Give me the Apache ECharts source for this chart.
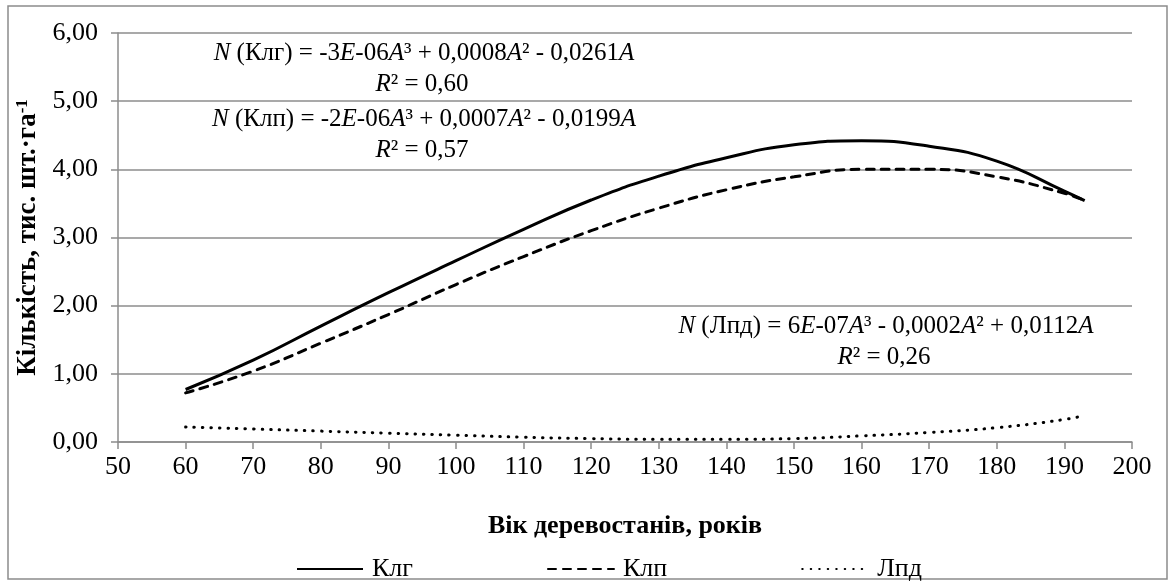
<!DOCTYPE html>
<html>
<head>
<meta charset="utf-8">
<script src="https://cdn.jsdelivr.net/npm/echarts@6/dist/echarts.min.js"></script>
<style>
  html, body { margin: 0; padding: 0; background: #fff; }
  #container { width: 1175px; height: 585px; }
</style>
</head>
<body>
<div id="container"></div>
<script>
var ages = [60, 70, 80, 90, 100, 110, 120, 130, 140, 150, 160, 170, 180, 190, 193];
var klg = [0.77, 1.20, 1.70, 2.19, 2.66, 3.12, 3.55, 3.90, 4.17, 4.36, 4.42, 4.34, 4.12, 3.68, 3.54];
var klp = [0.72, 1.04, 1.45, 1.87, 2.31, 2.72, 3.10, 3.43, 3.70, 3.89, 4.00, 4.00, 3.89, 3.65, 3.54];
var lpd = [0.22, 0.19, 0.16, 0.13, 0.10, 0.07, 0.05, 0.04, 0.04, 0.05, 0.09, 0.14, 0.21, 0.33, 0.39];
var seriesNames = ['Клг', 'Клп', 'Лпд'];

var font = "'Liberation Serif', 'Times New Roman', serif";
var gray = '#8c8c8c';
var fs = 26;

function pairs(vals) {
    return ages.map(function (a, i) { return [a, vals[i]]; });
}

var rich = {
    i: {fontFamily: font, fontSize: 25, fontStyle: 'italic', color: '#000'}
};

function eqText(text, x, y) {
    return {
        type: 'text',
        x: x,
        y: y,
        silent: true,
        style: {
            text: text,
            fill: '#000',
            fontFamily: font,
            fontSize: 25,
            align: 'center',
            verticalAlign: 'middle',
            rich: rich
        }
    };
}

var dom = document.getElementById("container");
var myChart = echarts.init(dom);
var option = {
    animation: false,
    backgroundColor: '#fff',
    grid: {left: 118, right: 43, top: 33, bottom: 143},
    graphic: [
        {
            type: 'rect',
            shape: {x: 8, y: 6, width: 1159, height: 573},
            style: {fill: null, stroke: gray, lineWidth: 1.5},
            silent: true
        },
        eqText('{i|N} (Клг) = -3{i|E}-06{i|A}³ + 0,0008{i|A}² - 0,0261{i|A}', 424, 53),
        eqText('{i|R}² = 0,60', 422, 84),
        eqText('{i|N} (Клп) = -2{i|E}-06{i|A}³ + 0,0007{i|A}² - 0,0199{i|A}', 424, 119),
        eqText('{i|R}² = 0,57', 422, 150),
        eqText('{i|N} (Лпд) = 6{i|E}-07{i|A}³ - 0,0002{i|A}² + 0,0112{i|A}', 886, 326),
        eqText('{i|R}² = 0,26', 884, 357)
    ],
    legend: {
        data: seriesNames,
        left: 291,
        top: 551,
        itemWidth: 66,
        itemHeight: 14,
        itemGap: 134,
        itemStyle: {opacity: 0},
        textStyle: {fontFamily: font, fontSize: fs, color: '#000', padding: [0, 0, 0, 4]}
    },
    xAxis: {
        type: 'value',
        min: 50,
        max: 200,
        interval: 10,
        name: 'Вік деревостанів, років',
        nameLocation: 'middle',
        nameGap: 71,
        nameTextStyle: {fontFamily: font, fontSize: fs, fontWeight: 'bold', color: '#000'},
        axisLine: {show: true, onZero: false, lineStyle: {color: gray, width: 1.5}},
        axisTick: {show: true, length: 7, lineStyle: {color: gray, width: 1.5}},
        axisLabel: {fontFamily: font, fontSize: fs, color: '#000', margin: 12},
        splitLine: {show: false}
    },
    yAxis: {
        type: 'value',
        min: 0,
        max: 6,
        interval: 1,
        name: '{b|Кількість, тис. шт.·га}{s|-1}',
        nameLocation: 'middle',
        nameGap: 75,
        nameTextStyle: {
            rich: {
                b: {fontFamily: font, fontSize: 27, fontWeight: 'bold', color: '#000'},
                s: {fontFamily: font, fontSize: 17, fontWeight: 'bold', color: '#000', verticalAlign: 'top', lineHeight: 17}
            }
        },
        axisLine: {show: true, lineStyle: {color: gray, width: 1.5}},
        axisTick: {show: true, length: 7, lineStyle: {color: gray, width: 1.5}},
        axisLabel: {
            fontFamily: font, fontSize: fs, color: '#000', margin: 20,
            formatter: function (v) { return v.toFixed(2).replace('.', ','); }
        },
        splitLine: {show: true, lineStyle: {color: gray, width: 1.5}}
    },
    series: [
        {
            name: seriesNames[0],
            type: 'line',
            smooth: true,
            symbol: 'none',
            data: pairs(klg),
            itemStyle: {color: '#000'},
            lineStyle: {color: '#000', width: 3}
        },
        {
            name: seriesNames[1],
            type: 'line',
            smooth: true,
            symbol: 'none',
            data: pairs(klp),
            itemStyle: {color: '#000'},
            lineStyle: {color: '#000', width: 3, type: [8, 7], cap: 'round'}
        },
        {
            name: seriesNames[2],
            type: 'line',
            smooth: true,
            symbol: 'none',
            data: pairs(lpd),
            itemStyle: {color: '#000'},
            lineStyle: {color: '#000', width: 3, type: [0.5, 8], cap: 'round'}
        }
    ]
};
if (option && typeof option === "object") {
    myChart.setOption(option, true);
}
</script>
</body>
</html>
